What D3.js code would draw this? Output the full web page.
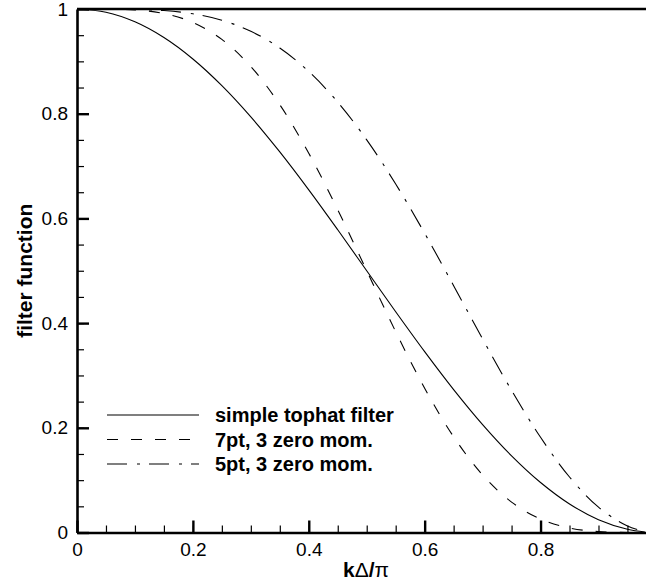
<!DOCTYPE html>
<html lang="en">
<head>
    <meta charset="UTF-8">
    <title>filter function</title>
    <script src="https://d3js.org/d3.v7.min.js"></script>
    <style>
        body {
            margin: 0;
            background-color: #ffffff;
            font-family: 'Liberation Sans', Arial, sans-serif;
        }
        .curve {
            fill: none;
            stroke: #000;
            stroke-width: 1.1;
        }
        .tick-label {
            font-size: 19px;
            fill: #000;
        }
        .axis-title {
            font-size: 21px;
            font-weight: bold;
        }
        .legend-text {
            font-size: 20px;
            font-weight: bold;
        }
    </style>
</head>
<body>
    <svg id="chart"></svg>

    <script>
        // wavenumber kΔ/π
        const kVals = [0, 0.05, 0.10, 0.15, 0.20, 0.25, 0.30, 0.35, 0.40, 0.45, 0.50,
                       0.55, 0.60, 0.65, 0.70, 0.75, 0.80, 0.85, 0.90, 0.95, 0.98];

        const tophat = [1, 0.99384, 0.97553, 0.94550, 0.90451, 0.85355, 0.79389, 0.72700, 0.65451, 0.57822, 0.5,
                        0.42178, 0.34549, 0.27300, 0.20611, 0.14645, 0.09549, 0.05450, 0.02447, 0.00616, 0.00099];

        const sevenPt = [1, 0.99989, 0.99823, 0.99142, 0.97439, 0.94194, 0.89007, 0.81710, 0.72439, 0.61637, 0.5,
                         0.38363, 0.27561, 0.18290, 0.10993, 0.05806, 0.02561, 0.00858, 0.00177, 0.00011, 0];

        const fivePt = [1, 0.99996, 0.99940, 0.99703, 0.99088, 0.97855, 0.95752, 0.92547, 0.88064, 0.82210, 0.75,
                        0.66567, 0.57162, 0.47148, 0.36973, 0.27145, 0.18186, 0.10602, 0.04834, 0.01227, 0.00197];

        const seriesNames = ["simple tophat filter", "7pt, 3 zero mom.", "5pt, 3 zero mom."];
        const xTickLabels = [0, 0.2, 0.4, 0.6, 0.8];
        const yTickLabels = [0, 0.2, 0.4, 0.6, 0.8, 1];

        const W = 646, H = 584;
        const plotLeft = 77, plotBottom = 532.5, plotTop = 9;

        const svg = d3.select("#chart")
            .attr("width", W)
            .attr("height", H);

        svg.append("rect").attr("width", W).attr("height", H).attr("fill", "#fff");

        const x = d3.scaleLinear().domain([0, 0.982]).range([plotLeft, W]);
        const y = d3.scaleLinear().domain([0, 1]).range([plotBottom, plotTop]);

        // minor ticks
        svg.append("g")
            .attr("transform", `translate(0,${plotBottom})`)
            .call(d3.axisBottom(x).tickValues(x.ticks(20)).tickSize(-7).tickSizeOuter(0).tickFormat(""))
            .call(g => g.select(".domain").remove())
            .selectAll("line").attr("stroke-width", 1.2);

        svg.append("g")
            .attr("transform", `translate(${plotLeft},0)`)
            .call(d3.axisLeft(y).tickValues(y.ticks(20)).tickSize(-7).tickSizeOuter(0).tickFormat(""))
            .call(g => g.select(".domain").remove())
            .selectAll("line").attr("stroke-width", 1.2);

        // major ticks + labels
        const xAxis = svg.append("g")
            .attr("transform", `translate(0,${plotBottom})`)
            .call(d3.axisBottom(x).tickValues(xTickLabels).tickSize(-12).tickSizeOuter(0)
                .tickPadding(10).tickFormat(d => d === 0 ? "0" : d3.format(".1f")(d)));
        xAxis.select(".domain").attr("stroke-width", 2.6);
        xAxis.selectAll(".tick line").attr("stroke-width", 2.4);
        xAxis.selectAll("text").attr("class", "tick-label");
        xAxis.attr("font-size", null).attr("font-family", null);

        const yAxis = svg.append("g")
            .attr("transform", `translate(${plotLeft},0)`)
            .call(d3.axisLeft(y).tickValues(yTickLabels).tickSize(-12).tickSizeOuter(0)
                .tickPadding(9).tickFormat(d => (d === 0 || d === 1) ? String(d) : d3.format(".1f")(d)));
        yAxis.select(".domain").attr("stroke-width", 2.6);
        yAxis.selectAll(".tick line").attr("stroke-width", 2.4);
        yAxis.selectAll("text").attr("class", "tick-label");
        yAxis.attr("font-size", null).attr("font-family", null);

        // top frame line
        svg.append("line")
            .attr("x1", x(0)).attr("x2", W)
            .attr("y1", y(1)).attr("y2", y(1))
            .attr("stroke", "#000").attr("stroke-width", 2.6);

        const dashes = ["none", "11,13", "20,10,3,9"];
        const series = [tophat, sevenPt, fivePt];

        const line = d3.line()
            .x((d, i) => x(kVals[i]))
            .y(d => y(d))
            .curve(d3.curveCatmullRom);

        svg.selectAll(".curve")
            .data(series)
            .enter().append("path")
            .attr("class", "curve")
            .attr("d", line)
            .attr("stroke-dasharray", (d, i) => dashes[i]);

        // legend
        const legend = svg.append("g");
        seriesNames.forEach((name, i) => {
            const ly = 415 + i * 24.5;
            legend.append("line")
                .attr("x1", 107).attr("x2", 199)
                .attr("y1", ly).attr("y2", ly)
                .attr("stroke", "#000").attr("stroke-width", 1.1)
                .attr("stroke-dasharray", dashes[i]);
            legend.append("text")
                .attr("class", "legend-text")
                .attr("x", 215)
                .attr("y", ly + 7)
                .text(name);
        });

        // axis titles
        const xt = svg.append("text")
            .attr("class", "axis-title")
            .attr("x", 366)
            .attr("y", 577)
            .attr("text-anchor", "middle");
        xt.append("tspan").text("k");
        xt.append("tspan").attr("font-weight", "normal").text("Δ");
        xt.append("tspan").text("/");
        xt.append("tspan").attr("font-weight", "normal").text("π");

        svg.append("text")
            .attr("class", "axis-title")
            .attr("font-size", 22)
            .attr("transform", `translate(32,${(y(0) + y(1)) / 2}) rotate(-90)`)
            .attr("text-anchor", "middle")
            .text("filter function");
    </script>
</body>
</html>
